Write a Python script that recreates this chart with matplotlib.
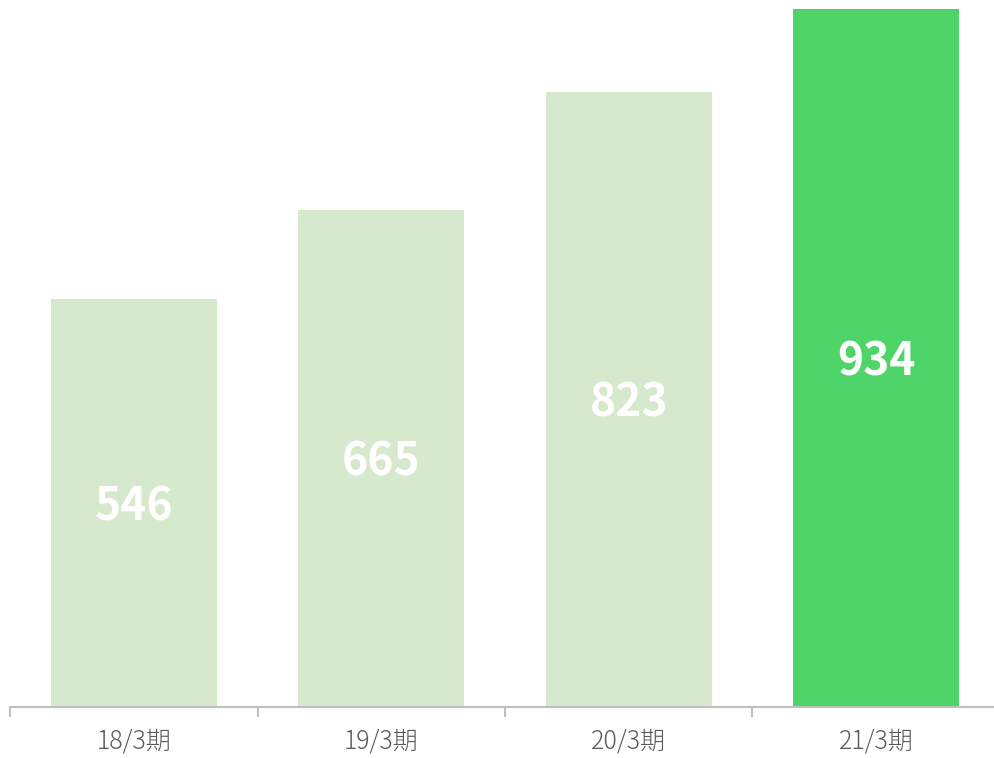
import matplotlib
matplotlib.use("Agg")
import matplotlib.pyplot as plt

categories = ["18/3期", "19/3期", "20/3期", "21/3期"]
values = [546, 665, 823, 934]
bar_colors = ["#D7E9CD", "#D7E9CD", "#D7E9CD", "#4FD46A"]

plt.rcParams['font.family'] = ['Noto Sans CJK JP', 'DejaVu Sans']

W, H = 994, 758
fig = plt.figure(figsize=(W / 100, H / 100), dpi=100)
ax = fig.add_axes([10 / W, (H - 707) / H, 990 / W, 707 / H])

x = list(range(len(categories)))
ax.bar(x, values, width=0.67, color=bar_colors, zorder=2)
ax.set_xlim(-0.5, len(categories) - 0.5)
ax.set_ylim(0, 946)

for xi, v in zip(x, values):
    ax.annotate(str(v), xy=(xi, v / 2), xytext=(0, -3), textcoords="offset points",
                ha="center", va="center", color="white",
                fontsize=32, fontweight="bold")

for s in ["top", "right", "left"]:
    ax.spines[s].set_visible(False)
ax.spines["bottom"].set_color("#BFBFBF")
ax.spines["bottom"].set_linewidth(1.5)
ax.set_yticks([])
ax.set_xticks(x)
ax.set_xticklabels(categories, fontsize=18, color="#595959", fontweight="light")
ax.tick_params(axis="x", length=0, pad=15)
# category boundary ticks
ax.set_xticks([i - 0.5 for i in range(len(categories) + 1)], minor=True)
ax.tick_params(axis="x", which="minor", length=7, width=1.5, color="#BFBFBF", direction="out")

fig.savefig("out.png", dpi=100)
